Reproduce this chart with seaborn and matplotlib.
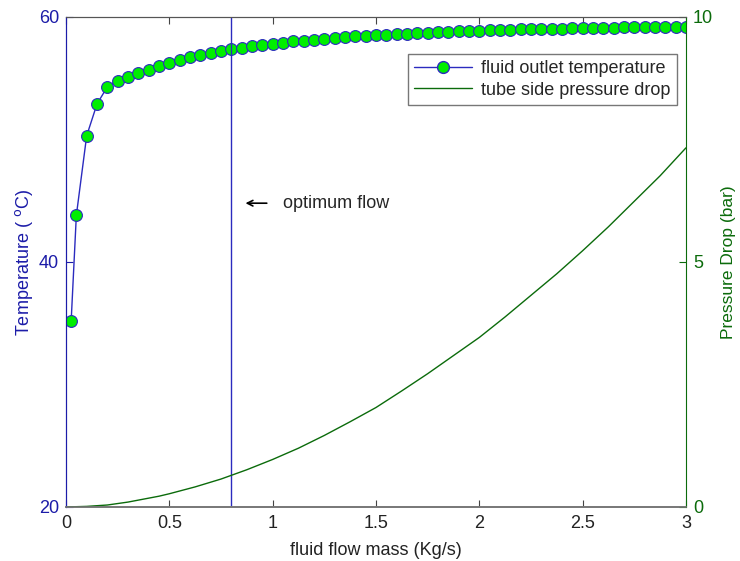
import matplotlib
matplotlib.use('Agg')
import matplotlib.pyplot as plt
import seaborn as sns
from matplotlib.lines import Line2D

# Data
flow = [0.025, 0.05, 0.1, 0.15, 0.2, 0.25, 0.3, 0.35, 0.4, 0.45,
        0.5, 0.55, 0.6, 0.65, 0.7, 0.75, 0.8, 0.85, 0.9, 0.95,
        1.0, 1.05, 1.1, 1.15, 1.2, 1.25, 1.3, 1.35, 1.4, 1.45,
        1.5, 1.55, 1.6, 1.65, 1.7, 1.75, 1.8, 1.85, 1.9, 1.95,
        2.0, 2.05, 2.1, 2.15, 2.2, 2.25, 2.3, 2.35, 2.4, 2.45,
        2.5, 2.55, 2.6, 2.65, 2.7, 2.75, 2.8, 2.85, 2.9, 2.95, 3.0]
outlet_temp = [35.2, 43.8, 50.3, 52.9, 54.3, 54.8, 55.1, 55.4, 55.7, 56.0,
               56.25, 56.5, 56.7, 56.9, 57.1, 57.25, 57.37, 57.5, 57.6, 57.7,
               57.8, 57.9, 58.0, 58.08, 58.15, 58.22, 58.29, 58.35, 58.41, 58.46,
               58.51, 58.56, 58.6, 58.64, 58.68, 58.72, 58.76, 58.79, 58.82, 58.85,
               58.88, 58.91, 58.93, 58.96, 58.98, 59.0, 59.02, 59.04, 59.06, 59.08,
               59.1, 59.11, 59.13, 59.14, 59.16, 59.17, 59.18, 59.19, 59.2, 59.21, 59.22]

flow_p = [0, 0.1, 0.2, 0.3, 0.45, 0.5, 0.625, 0.75, 0.875, 1.0, 1.125, 1.25,
          1.375, 1.5, 1.625, 1.75, 1.875, 2.0, 2.125, 2.25, 2.375, 2.5,
          2.625, 2.75, 2.875, 3.0]
pressure_drop = [0, 0.012, 0.04, 0.1, 0.22, 0.27, 0.41, 0.57, 0.76, 0.97, 1.2, 1.46,
                 1.74, 2.03, 2.37, 2.72, 3.09, 3.46, 3.88, 4.32, 4.76, 5.23,
                 5.72, 6.24, 6.76, 7.33]

optimum_flow = 0.8

blue = '#1c1ca8'
line_blue = '#2b2bbf'
green = '#0b6b0b'

sns.set_style('white')
plt.rcParams['font.family'] = ['Liberation Sans', 'DejaVu Sans']
plt.rcParams['xtick.direction'] = 'in'
plt.rcParams['ytick.direction'] = 'in'

fig = plt.figure(figsize=(7.4, 5.61), dpi=100)
ax = fig.add_axes([0.0892, 0.0963, 0.8378, 0.8734])
ax2 = ax.twinx()

sns.lineplot(x=flow, y=outlet_temp, ax=ax, color=line_blue, linewidth=1,
             marker='o', markersize=8.5, markerfacecolor='#00ee00',
             markeredgecolor=line_blue, markeredgewidth=0.8)
ax.axvline(optimum_flow, color=line_blue, linewidth=1)
sns.lineplot(x=flow_p, y=pressure_drop, ax=ax2, color=green, linewidth=1)

ax.set_xlim(0, 3)
ax.set_ylim(20, 60)
ax2.set_ylim(0, 10)
ax.set_xticks([0, 0.5, 1, 1.5, 2, 2.5, 3])
ax.set_xticklabels(['0', '0.5', '1', '1.5', '2', '2.5', '3'])
ax.set_yticks([20, 40, 60])
ax2.set_yticks([0, 5, 10])

ax.tick_params(axis='x', top=True, bottom=True, length=5, width=0.8, pad=6,
               colors='#444444', labelsize=13, labelcolor='#222222')
ax.tick_params(axis='y', left=True, right=False, length=5, width=0.8, pad=5,
               colors=blue, labelsize=13)
ax2.tick_params(axis='y', right=True, left=False, length=5, width=0.8, pad=5,
                colors=green, labelsize=13)

for a in (ax, ax2):
    a.spines['top'].set_color('#555555')
    a.spines['bottom'].set_color('#777777')
    a.spines['bottom'].set_linewidth(1.2)
ax.spines['left'].set_color(blue)
ax.spines['right'].set_visible(False)
ax2.spines['left'].set_color(blue)
ax2.spines['right'].set_color(green)

ax.set_xlabel('fluid flow mass (Kg/s)', fontsize=13, color='#222222', labelpad=7)
ax.set_ylabel('Temperature ( $^{\\mathrm{o}}$C)', fontsize=13, color=blue, labelpad=3)
ax2.set_ylabel('Pressure Drop (bar)', fontsize=12.5, color=green, labelpad=6)

ax.annotate('', xy=(0.855, 44.8), xytext=(0.985, 44.8),
            arrowprops=dict(arrowstyle='->', color='black', lw=1.2))
ax.text(1.05, 44.8, 'optimum flow', fontsize=13, va='center', ha='left')

handles = [
    Line2D([], [], color=line_blue, linewidth=1, marker='o', markersize=8.5,
           markerfacecolor='#00ee00', markeredgecolor=line_blue),
    Line2D([], [], color=green, linewidth=1),
]
leg = ax2.legend(handles, ['fluid outlet temperature', 'tube side pressure drop'],
                 loc='upper right', bbox_to_anchor=(0.985, 0.925), fontsize=13,
                 fancybox=False, framealpha=1, edgecolor='#777777',
                 handlelength=3.2, borderpad=0.35, labelspacing=0.25,
                 handletextpad=0.5, borderaxespad=0)
leg.get_frame().set_linewidth(1)

fig.savefig('out.png', dpi=100)
